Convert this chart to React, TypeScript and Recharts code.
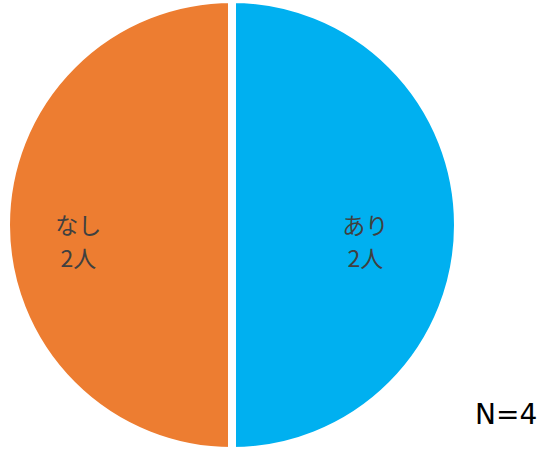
import { PieChart, Pie, Cell } from "recharts"

const categories = ["あり", "なし"]
const counts = [2, 2]
const colors = ["#00B0F0", "#ED7D31"]
const totalLabel = "N=4"

const data = categories.map((name, i) => ({ name, value: counts[i] }))

// label distance from the centre, as a fraction of the radius
const labelRadius = [0.59, 0.68]

const RADIAN = Math.PI / 180

function renderLabel(props: any) {
  const { cx, cy, midAngle, outerRadius, index, name, value } = props
  const r = outerRadius * labelRadius[index]
  const x = cx + r * Math.cos(-midAngle * RADIAN)
  const y = cy + r * Math.sin(-midAngle * RADIAN)
  return (
    <text
      x={x}
      y={y}
      fill="#404040"
      fontSize={23}
      fontFamily="'Noto Sans CJK JP', sans-serif"
      textAnchor="middle"
    >
      <tspan x={x} dy={9}>{name}</tspan>
      <tspan x={x} dy={33}>{value}人</tspan>
    </text>
  )
}

export default function App() {
  return (
    <div style={{ position: "absolute", left: 0, top: 0, width: 542, height: 449, background: "#fff" }}>
      <PieChart width={542} height={449} margin={{ top: 0, right: 0, bottom: 0, left: 0 }}>
        <Pie
          data={data}
          dataKey="value"
          nameKey="name"
          cx={232}
          cy={225}
          outerRadius={226}
          startAngle={90}
          endAngle={-270}
          stroke="#ffffff"
          strokeWidth={8}
          label={renderLabel}
          labelLine={false}
          isAnimationActive={false}
        >
          {data.map((d, i) => (
            <Cell key={d.name} fill={colors[i]} />
          ))}
        </Pie>
      </PieChart>
      <div
        style={{
          position: "absolute",
          left: 475,
          top: 401,
          fontSize: 28,
          fontFamily: "'DejaVu Sans', sans-serif",
          color: "#000",
          lineHeight: "28px",
          whiteSpace: "nowrap",
        }}
      >
        {totalLabel}
      </div>
    </div>
  )
}
